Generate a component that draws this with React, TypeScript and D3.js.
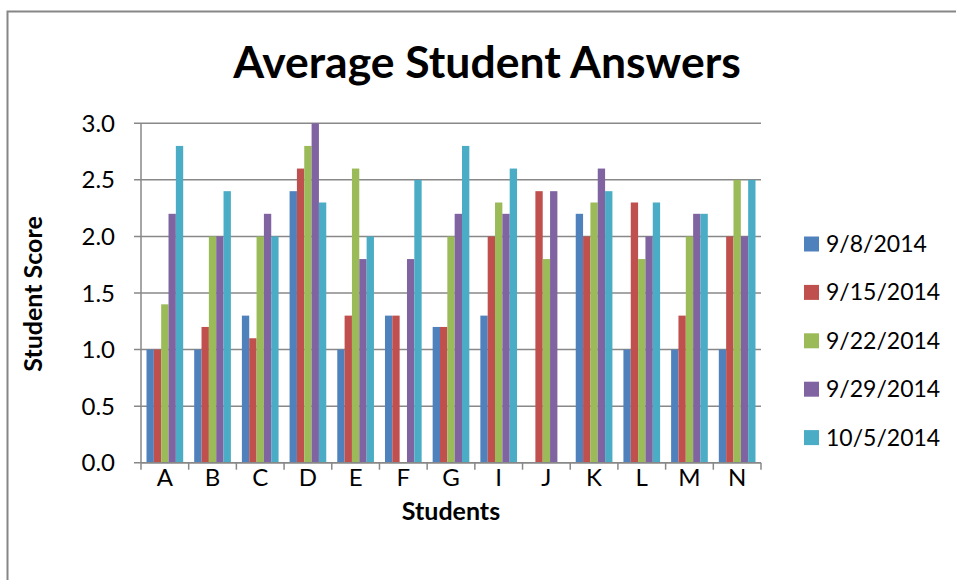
import React from "react";
import * as d3 from "d3";

const students = ["A", "B", "C", "D", "E", "F", "G", "I", "J", "K", "L", "M", "N"];
const seriesNames = ["9/8/2014", "9/15/2014", "9/22/2014", "9/29/2014", "10/5/2014"];
const s1 = [1.0, 1.0, 1.3, 2.4, 1.0, 1.3, 1.2, 1.3, null, 2.2, 1.0, 1.0, 1.0];
const s2 = [1.0, 1.2, 1.1, 2.6, 1.3, 1.3, 1.2, 2.0, 2.4, 2.0, 2.3, 1.3, 2.0];
const s3 = [1.4, 2.0, 2.0, 2.8, 2.6, null, 2.0, 2.3, 1.8, 2.3, 1.8, 2.0, 2.5];
const s4 = [2.2, 2.0, 2.2, 3.0, 1.8, 1.8, 2.2, 2.2, 2.4, 2.6, 2.0, 2.2, 2.0];
const s5 = [2.8, 2.4, 2.0, 2.3, 2.0, 2.5, 2.8, 2.6, null, 2.4, 2.3, 2.2, 2.5];
const yTicks = [0, 0.5, 1.0, 1.5, 2.0, 2.5, 3.0];
const colors = ["#4F81BD", "#C0504D", "#9BBB59", "#8064A2", "#4BACC6"];

const series = [s1, s2, s3, s4, s5];

export default function App() {
  const W = 956, H = 580;
  const left = 141, right = 761, top = 123.3, bottom = 462.7;
  const font = "Lato, 'Open Sans', sans-serif";
  const x0 = d3.scaleBand<string>().domain(students).range([left, right]).paddingInner(0.2308).paddingOuter(0.1154);
  const xCat = d3.scaleBand<string>().domain(students).range([left, right]);
  const x1 = d3.scaleBand<string>().domain(seriesNames).range([0, x0.bandwidth()]);
  const y = d3.scaleLinear().domain([0, 3]).range([bottom, top]);
  const grid = "#888888";
  return (
    <svg width={W} height={H} style={{ position: "absolute", left: 0, top: 0, background: "#fff" }}>
      <rect x={0} y={0} width={W} height={H} fill="#fff" />
      <path d={`M7.5,${H + 5} V11.5 H${W + 5}`} fill="none" stroke="#868686" strokeWidth={2} />
      <text x={487} y={78} textAnchor="middle" fontFamily={font} fontWeight={700} fontSize={44.5} fill="#000">
        Average Student Answers
      </text>
      {yTicks.map((t) => (
        <g key={t}>
          <line x1={left - 7} x2={right} y1={y(t)} y2={y(t)} stroke={grid} strokeWidth={1.5} />
          <text x={115} y={y(t) + 8.5} textAnchor="end" fontFamily={font} fontSize={24} fill="#000">
            {d3.format(".1f")(t)}
          </text>
        </g>
      ))}
      <line x1={left} x2={left} y1={top} y2={bottom + 7} stroke={grid} strokeWidth={1.5} />
      {students.map((s, i) => (
        <line key={"t" + s} x1={xCat(s)! + xCat.bandwidth()} x2={xCat(s)! + xCat.bandwidth()} y1={bottom} y2={bottom + 7} stroke={grid} strokeWidth={1.5} />
      ))}
      {series.map((vals, si) =>
        vals.map((v, i) =>
          v == null ? null : (
            <rect
              key={si + "-" + i}
              x={x0(students[i])! + x1(seriesNames[si])!}
              y={y(v)}
              width={x1.bandwidth()}
              height={bottom - y(v)}
              fill={colors[si]}
            />
          )
        )
      )}
      <line x1={left} x2={right} y1={bottom} y2={bottom} stroke={grid} strokeWidth={1.5} />
      {students.map((s) => (
        <text key={"l" + s} x={xCat(s)! + xCat.bandwidth() / 2} y={486} textAnchor="middle" fontFamily={font} fontSize={24} fill="#000">
          {s}
        </text>
      ))}
      <text x={451} y={520} textAnchor="middle" fontFamily={font} fontWeight={700} fontSize={25} fill="#000">
        Students
      </text>
      <text transform="translate(42,294) rotate(-90)" textAnchor="middle" fontFamily={font} fontWeight={700} fontSize={25} fill="#000">
        Student Score
      </text>
      {seriesNames.map((n, i) => {
        const cy = 244 + i * 48.4;
        return (
          <g key={n}>
            <rect x={804} y={cy - 7.5} width={15} height={15} fill={colors[i]} />
            <text x={826} y={cy + 8} fontFamily={font} fontSize={23} fill="#000">
              {n}
            </text>
          </g>
        );
      })}
    </svg>
  );
}
